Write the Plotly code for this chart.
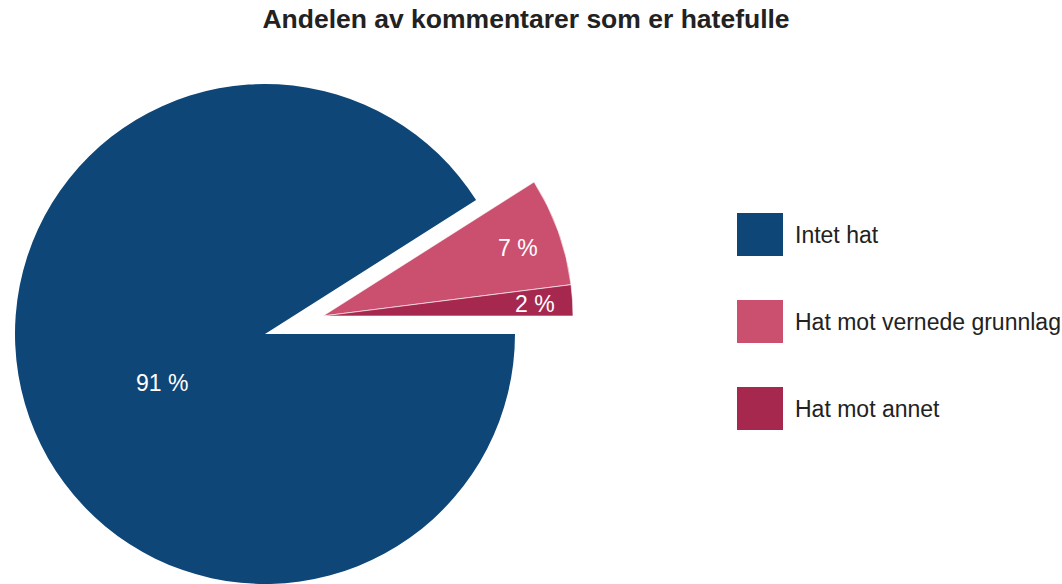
import math
import plotly.graph_objects as go

categories = ["Intet hat", "Hat mot vernede grunnlag", "Hat mot annet"]
values = [91, 7, 2]
value_labels = ["91 %", "7 %", "2 %"]
colors = ["#0e4678", "#cb5070", "#a6284f"]
title = "Andelen av kommentarer som er hatefulle"

W, H = 1062, 584
TRANSP = "rgba(0,0,0,0)"
FONT = "Liberation Sans, Arial, sans-serif"

# pie geometry (pixels): main pie and the sliced-out group
R = 250
MAIN_C = (265, 334)
SLICED_C = (323, 316)
# label placement style: radial fraction and angular nudge (deg, clockwise) per slice
LABEL_FRAC = [0.456, 0.826, 0.85]
LABEL_NUDGE = [-9.2, 0.6, 0.4]


def px_dom(cx, cy, r):
    return dict(x=[(cx - r) / W, (cx + r) / W], y=[(H - (cy + r)) / H, (H - (cy - r)) / H])


fig = go.Figure()
fig.add_trace(go.Pie(
    labels=categories, values=values, sort=False, direction="clockwise", rotation=90,
    marker=dict(colors=[colors[0], TRANSP, TRANSP], line=dict(width=0)),
    textinfo="none", domain=px_dom(*MAIN_C, R), showlegend=False, hoverinfo="label+percent",
))
fig.add_trace(go.Pie(
    labels=categories, values=values, sort=False, direction="clockwise", rotation=90,
    marker=dict(colors=[TRANSP, colors[1], colors[2]], line=dict(width=[0, 0.6, 0.6], color="#ffffff")),
    textinfo="none", domain=px_dom(*SLICED_C, R), showlegend=False, hoverinfo="label+percent",
))

annotations = []
# value labels placed from the slice angles (clockwise from 3 o'clock, screen coords)
total = sum(values)
cum = 0.0
for i, (v, lab) in enumerate(zip(values, value_labels)):
    mid = (cum + v / 2) / total * 360.0
    cum += v
    ang = math.radians(mid + LABEL_NUDGE[i])
    cx, cy = MAIN_C if i == 0 else SLICED_C
    px = cx + R * LABEL_FRAC[i] * math.cos(ang)
    py = cy + R * LABEL_FRAC[i] * math.sin(ang)
    annotations.append(dict(text=lab, xref="paper", yref="paper", x=px / W, y=(H - py) / H,
                            xanchor="center", yanchor="middle", showarrow=False,
                            font=dict(family=FONT, size=23, color="white")))

shapes = []
for i, (cat, col) in enumerate(zip(categories, colors)):
    top = 213 + i * 87
    shapes.append(dict(type="rect", xref="paper", yref="paper",
                       x0=737 / W, x1=783 / W, y0=(H - top - 43) / H, y1=(H - top) / H,
                       fillcolor=col, line=dict(width=0)))
    annotations.append(dict(text=cat, xref="paper", yref="paper", x=793 / W, y=(H - top - 22) / H,
                            xanchor="left", yanchor="middle", showarrow=False,
                            font=dict(family=FONT, size=23, color="#222222")))

fig.update_layout(
    width=W, height=H,
    margin=dict(l=0, r=0, t=0, b=0),
    paper_bgcolor="white", plot_bgcolor="white",
    title=dict(text="<b>" + title + "</b>", x=526 / W, xanchor="center", y=1 - 19 / H, yanchor="middle",
               font=dict(family=FONT, size=26.5, color="#222222")),
    shapes=shapes, annotations=annotations,
)
fig.write_html("out.html", config={"displayModeBar": False},
               post_script="document.body.style.margin='0';document.body.style.overflow='hidden';")
